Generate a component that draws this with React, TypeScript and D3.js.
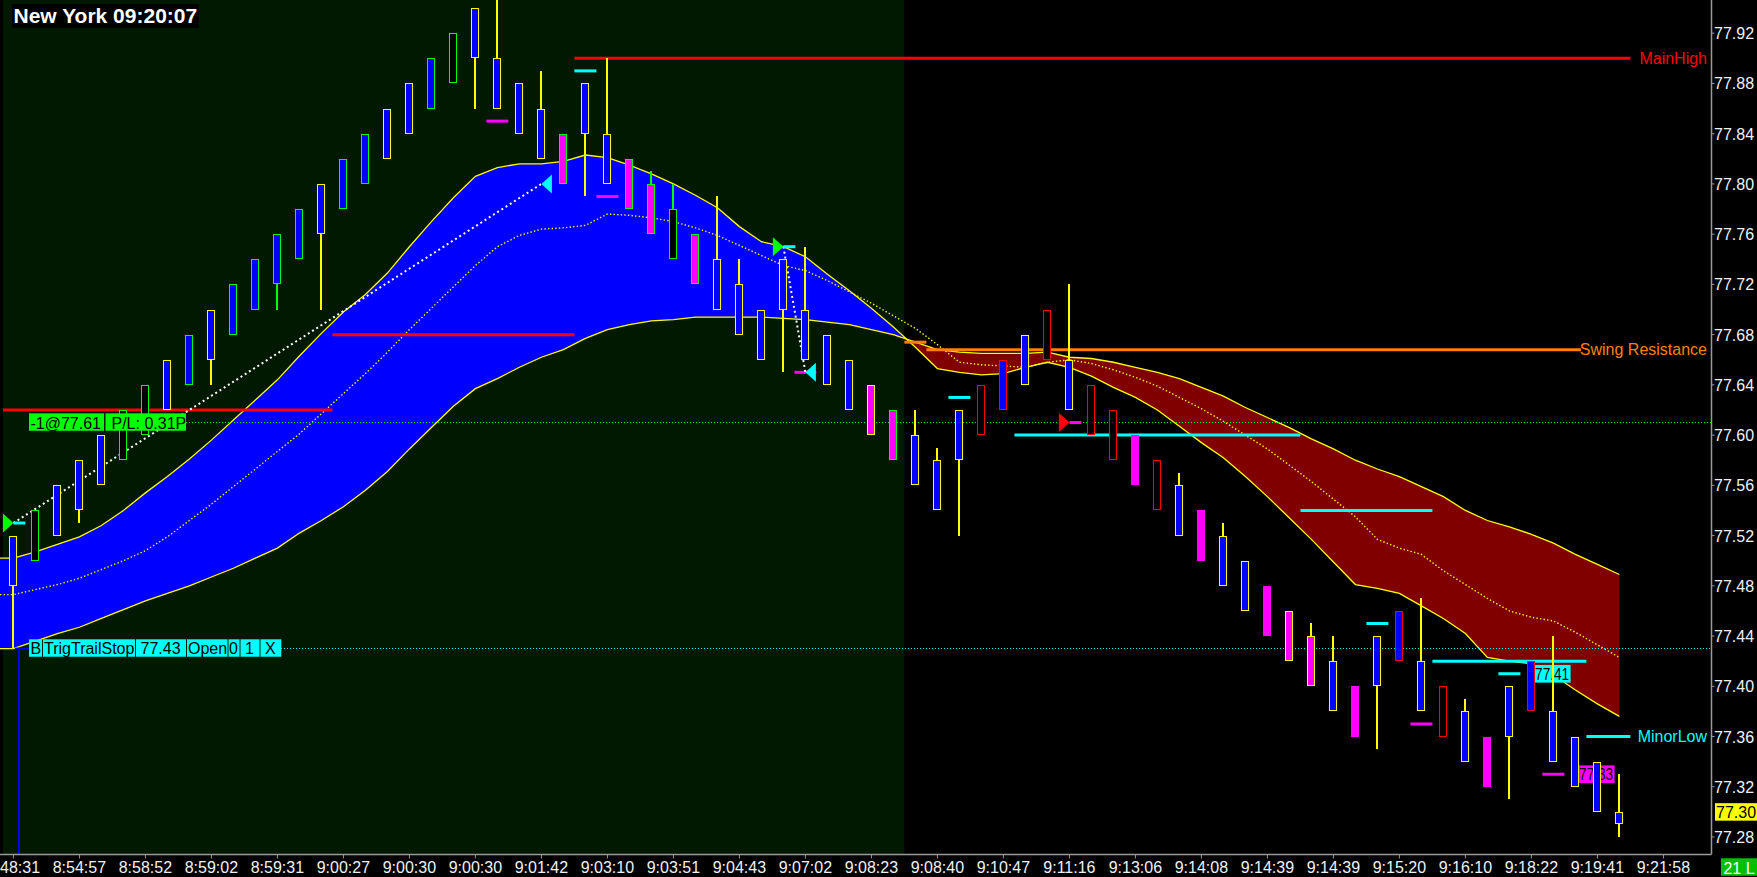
import React from "react";
import * as d3 from "d3";

const W = 1757;
const H = 877;

// ---------- DATA ----------
// first label is shown cut by the left edge in the source ("8:48:31")
const timeLabels = ["48:31","8:54:57","8:58:52","8:59:02","8:59:31","9:00:27","9:00:30","9:00:30","9:01:42","9:03:10","9:03:51","9:04:43","9:07:02","9:08:23","9:08:40","9:10:47","9:11:16","9:13:06","9:14:08","9:14:39","9:14:39","9:15:20","9:16:10","9:18:22","9:19:41","9:21:58"];
const priceTicks = [77.92,77.88,77.84,77.80,77.76,77.72,77.68,77.64,77.60,77.56,77.52,77.48,77.44,77.40,77.36,77.32,77.28];

const barOpen = [77.48,77.50,77.52,77.54,77.56,77.58,77.60,77.62,77.64,77.66,77.68,77.70,77.72,77.74,77.76,77.78,77.80,77.82,77.84,77.86,77.88,77.90,
  77.90,77.88,77.86,77.84,77.84,77.84,77.82,77.80,77.78,77.76,77.74,77.72,77.70,77.70,77.70,77.68,77.66,77.64,77.62,77.60,77.58,77.58,77.60,77.62,77.64,77.66,77.66,77.64,77.62,77.60,77.58,77.56,77.54,77.52,77.50,77.48,77.46,77.44,77.42,77.40,77.40,77.42,77.42,77.40,77.38,77.36,77.36,77.38,77.38,77.36,77.34,77.30];
const barClose = [77.52,77.54,77.56,77.58,77.60,77.62,77.64,77.66,77.68,77.70,77.72,77.74,77.76,77.78,77.80,77.82,77.84,77.86,77.88,77.90,77.92,77.94,
  77.86,77.84,77.82,77.80,77.88,77.80,77.78,77.76,77.74,77.72,77.70,77.68,77.66,77.74,77.66,77.64,77.62,77.60,77.58,77.56,77.54,77.62,77.64,77.66,77.68,77.70,77.62,77.60,77.58,77.56,77.54,77.52,77.50,77.48,77.46,77.44,77.42,77.40,77.38,77.36,77.44,77.46,77.38,77.36,77.34,77.32,77.40,77.42,77.34,77.32,77.30,77.29];
const barHigh = [77.52,77.54,77.56,77.58,77.60,77.62,77.64,77.66,77.68,77.70,77.72,77.74,77.76,77.78,77.80,77.82,77.84,77.86,77.88,77.90,77.92,77.94,
  77.97,77.88,77.89,77.84,77.88,77.90,77.82,77.81,77.80,77.76,77.79,77.74,77.70,77.74,77.75,77.68,77.66,77.64,77.62,77.62,77.59,77.62,77.64,77.66,77.68,77.70,77.72,77.64,77.62,77.60,77.58,77.57,77.54,77.53,77.50,77.48,77.46,77.45,77.44,77.40,77.44,77.46,77.47,77.40,77.39,77.36,77.40,77.42,77.44,77.36,77.34,77.33];
const barLow = [77.43,77.50,77.52,77.53,77.56,77.58,77.60,77.62,77.64,77.64,77.68,77.70,77.70,77.74,77.70,77.78,77.80,77.82,77.84,77.86,77.88,77.86,
  77.86,77.84,77.82,77.80,77.79,77.80,77.78,77.76,77.74,77.72,77.70,77.68,77.66,77.65,77.66,77.64,77.62,77.60,77.58,77.56,77.54,77.52,77.60,77.62,77.64,77.66,77.62,77.60,77.58,77.56,77.54,77.52,77.50,77.48,77.46,77.44,77.42,77.40,77.38,77.36,77.35,77.42,77.38,77.36,77.34,77.32,77.31,77.38,77.34,77.32,77.30,77.28];
// colour class of each bar
const barStyle = ["BY","KG","BY","BY","BY","KG","KG","BY","BG","BY","BG","BG","BG","BG","BY","BG","BG","BY","BY","BG","KG","BY",
  "BY","BY","BY","MG","BY","BY","MG","MG","KG","MG","BY","BY","BY","BY","BY","BY","BY","MY","MG","BY","BY","BY","R","BR","BY","R","BY","R","R","M","R","BY","M","BY","BY","M","MY","MY","BY","M","BY","BR","BY","R","BY","M","BY","BR","BY","BY","BY","BY"];

const bandFast = [77.502,77.507,77.513,77.519,77.528,77.540,77.554,77.567,77.581,77.596,
  77.612,77.628,77.644,77.663,77.681,77.698,77.712,77.729,77.750,77.770,
  77.789,77.806,77.813,77.816,77.816,77.818,77.823,77.821,77.815,77.808,
  77.800,77.791,77.781,77.766,77.754,77.750,77.742,77.728,77.715,77.701,
  77.686,77.670,77.653,77.650,77.648,77.649,77.654,77.658,77.654,77.647,
  77.638,77.630,77.620,77.607,77.594,77.582,77.567,77.551,77.534,77.517,
  77.499,77.481,77.478,77.474,77.464,77.454,77.442,77.423,77.420,77.418,
  77.409,77.397,77.386,77.376];
const bandSlow = [77.430,77.436,77.442,77.447,77.454,77.461,77.468,77.474,77.480,77.487,
  77.494,77.502,77.510,77.522,77.532,77.543,77.556,77.571,77.589,77.606,
  77.623,77.637,77.645,77.654,77.662,77.668,77.677,77.684,77.688,77.691,
  77.692,77.694,77.694,77.694,77.694,77.693,77.692,77.690,77.688,77.684,
  77.680,77.674,77.668,77.666,77.665,77.665,77.665,77.666,77.662,77.661,
  77.658,77.654,77.650,77.645,77.638,77.631,77.622,77.614,77.606,77.597,
  77.589,77.580,77.573,77.567,77.559,77.551,77.540,77.532,77.527,77.521,
  77.514,77.505,77.497,77.489];
const bandMid = [77.473,77.477,77.481,77.486,77.493,77.500,77.508,77.519,77.532,77.545,
  77.559,77.573,77.587,77.601,77.617,77.633,77.649,77.666,77.684,77.701,
  77.718,77.735,77.750,77.759,77.764,77.765,77.767,77.776,77.775,77.773,
  77.770,77.765,77.759,77.751,77.743,77.735,77.731,77.723,77.714,77.705,
  77.695,77.685,77.672,77.658,77.656,77.655,77.654,77.658,77.660,77.657,
  77.652,77.646,77.639,77.630,77.621,77.611,77.600,77.589,77.576,77.563,
  77.549,77.535,77.517,77.510,77.505,77.492,77.481,77.470,77.460,77.455,
  77.452,77.443,77.433,77.423];

// horizontal level segments (bar units)
const levelPrice = [77.62, 77.68, 77.90, 77.674, 77.668, 77.60, 77.54, 77.42, 77.36];
const levelFrom = [-0.47, 14.5, 25.5, 40.5, 41.5, 45.5, 58.5, 64.5, 71.5];
const levelTo = [14.5, 25.5, 73.5, 41.5, 71.25, 58.5, 64.5, 71.5, 73.5];
const levelKind = ["red", "red", "red", "orange", "orange", "cyan", "cyan", "cyan", "cyan"];
const levelLabelText = ["MainHigh", "Swing Resistance", "MinorLow"];
const levelLabelOf = [2, 4, 8];

// swing ticks
const swingBar = [22, 26, 27, 36, 43, 62, 64, 68, 70];
const swingPrice = [77.85, 77.89, 77.79, 77.65, 77.63, 77.45, 77.37, 77.41, 77.33];
const swingKind = ["magenta", "cyan", "magenta", "magenta", "cyan", "cyan", "magenta", "cyan", "magenta"];

// trades
const entryBar = [0, 35, 48];
const entryPrice = [77.53, 77.75, 77.61];
const entryKind = ["green", "green", "red"];
const entryTail = ["cyan", "cyan", "magenta"];
const exitBar = [24, 36];
const exitPrice = [77.80, 77.65];

const positionPrice = 77.61;
const orderPrice = 77.43;
const lastPrice = 77.30;
const tagPrice = [77.41, 77.33];
const tagBar = [69, 71];
const tagKind = ["cyan", "magenta"];
const sessionBreakBar = 40.5;

// ---------- RENDER ----------
const COL: Record<string, string> = {
  red: "#ff0000", orange: "#ff8000", cyan: "#00ffff", magenta: "#ff00ff", green: "#00ff00",
};
const CANDLE: Record<string, { fill: string; stroke: string }> = {
  BY: { fill: "#0000ff", stroke: "#ffff00" },
  BG: { fill: "#0000ff", stroke: "#00ff00" },
  KG: { fill: "#000000", stroke: "#00ff00" },
  MG: { fill: "#ff00ff", stroke: "#00ff00" },
  MY: { fill: "#ff00ff", stroke: "#ffff00" },
  M: { fill: "#ff00ff", stroke: "#ff00ff" },
  R: { fill: "#000000", stroke: "#ff0000" },
  BR: { fill: "#0000ff", stroke: "#ff0000" },
};
const FONT = "'Liberation Sans', Arial, Helvetica, sans-serif";

type BP = { x: number; f: number; s: number; m: number };

export default function App() {
  const xS = d3.scaleLinear().domain([0, 73]).range([13.4, 1619.4]);
  const yS = d3.scaleLinear().domain([77.28, 77.92]).range([837.0, 33.2]);
  const PR = 1711.5;
  const PB = 854.5;

  const base: BP[] = bandFast.map((f, i) => ({ x: xS(i), f, s: bandSlow[i], m: bandMid[i] }));
  const pts: BP[] = [{ ...base[0], x: 0 }, ...base];
  const split: BP[] = [];
  pts.forEach((p, i) => {
    if (i > 0) {
      const a = pts[i - 1];
      const da = a.f - a.s, db = p.f - p.s;
      if (da * db < 0) {
        const t = da / (da - db);
        split.push({ x: a.x + t * (p.x - a.x), f: a.f + t * (p.f - a.f), s: a.s + t * (p.s - a.s), m: a.m + t * (p.m - a.m) });
      }
    }
    split.push(p);
  });
  const bluePath = d3.area<BP>().x(d => d.x).y0(d => yS(d.s)).y1(d => yS(Math.max(d.f, d.s)))(split) || "";
  const redPath = d3.area<BP>().x(d => d.x).y0(d => yS(d.f)).y1(d => yS(Math.max(d.f, d.s)))(split) || "";
  const fPath = d3.line<BP>().x(d => d.x).y(d => yS(d.f))(pts) || "";
  const sPath = d3.line<BP>().x(d => d.x).y(d => yS(d.s))(pts) || "";
  const mPath = d3.line<BP>().x(d => d.x).y(d => yS(d.m))(pts) || "";

  const sessX = xS(sessionBreakBar);
  const posY = yS(positionPrice);
  const ordY = yS(orderPrice);

  const candles = barOpen.map((o, i) => {
    const c = barClose[i];
    const st = CANDLE[barStyle[i]];
    const cx = Math.round(xS(i));
    const top = Math.round(yS(Math.max(o, c))) + 0.5;
    const bot = Math.round(yS(Math.min(o, c))) - 0.5;
    const hi = Math.round(yS(barHigh[i]));
    const lo = Math.round(yS(barLow[i]));
    return (
      <g key={"c" + i} shapeRendering="crispEdges">
        {hi < top - 1 && <line x1={cx} x2={cx} y1={hi} y2={top} stroke={st.stroke} strokeWidth={2} />}
        {lo > bot + 1 && <line x1={cx} x2={cx} y1={bot} y2={lo} stroke={st.stroke} strokeWidth={2} />}
        <rect x={cx - 3.5} y={top} width={7} height={Math.max(bot - top, 1)} fill={st.fill} stroke={st.stroke} strokeWidth={1} />
      </g>
    );
  });

  const orderCells = [
    { a: 29, b: 42, t: "B", tx: 30.5 },
    { a: 43, b: 135, t: "TrigTrailStop", tx: 44 },
    { a: 136, b: 186, t: "77.43", tx: 140.5 },
    { a: 187, b: 227.5, t: "Open", tx: 188 },
    { a: 228.5, b: 239.5, t: "0", tx: 229 },
    { a: 240.5, b: 259.5, t: "1", tx: 245 },
    { a: 260.5, b: 281.3, t: "X", tx: 265 },
  ];

  return (
    <svg width={W} height={H} style={{ position: "fixed", left: 0, top: 0, display: "block" }} fontFamily={FONT}>
      <defs>
        <clipPath id="plotClip"><rect x={0} y={0} width={PR} height={PB} /></clipPath>
      </defs>
      <rect x={0} y={0} width={W} height={H} fill="#000" />
      <rect x={3} y={0} width={sessX - 3} height={PB} fill="#001900" />

      <g clipPath="url(#plotClip)">
        <path d={bluePath} fill="#0000ff" />
        <path d={redPath} fill="#800000" />
        <path d={fPath} fill="none" stroke="#ffff00" strokeWidth={1.3} />
        <path d={sPath} fill="none" stroke="#ffff00" strokeWidth={1.3} />
        <path d={mPath} fill="none" stroke="#ffff00" strokeWidth={1.4} strokeDasharray="1.4 2.2" />

        {/* dotted position / order lines */}
        <line x1={186} x2={PR} y1={posY} y2={posY} stroke="#00ff00" strokeWidth={1} strokeDasharray="1 2" shapeRendering="crispEdges" />
        <line x1={281} x2={PR} y1={ordY} y2={ordY} stroke="#00ffff" strokeWidth={1} strokeDasharray="1 2" shapeRendering="crispEdges" />
        <line x1={19} x2={19} y1={ordY} y2={PB} stroke="#0000ff" strokeWidth={2} />
        <line x1={15} x2={29} y1={ordY} y2={ordY} stroke="#0000ff" strokeWidth={2} />

        {levelPrice.map((p, i) => (
          <line key={"l" + i} x1={xS(levelFrom[i])} x2={xS(levelTo[i])} y1={yS(p)} y2={yS(p)} stroke={COL[levelKind[i]]} strokeWidth={3} />
        ))}
        {levelLabelOf.map((li, j) => (
          <text key={"ll" + j} x={1707} y={yS(levelPrice[li]) + 5.5} textAnchor="end" fontSize={16} fill={COL[levelKind[li]]}>{levelLabelText[j]}</text>
        ))}

        {swingBar.map((b, i) => (
          <line key={"s" + i} x1={xS(b) - 11} x2={xS(b) + 11} y1={yS(swingPrice[i])} y2={yS(swingPrice[i])} stroke={COL[swingKind[i]]} strokeWidth={3} />
        ))}

        {/* trade links */}
        {exitBar.map((b, i) => (
          <line key={"tl" + i} x1={xS(entryBar[i])} y1={yS(entryPrice[i])} x2={xS(b)} y2={yS(exitPrice[i])} stroke="#ffffff" strokeWidth={2} strokeDasharray="2 3" />
        ))}
        {entryBar.map((b, i) => {
          const tx = xS(b), ty = yS(entryPrice[i]);
          return (
            <g key={"e" + i}>
              <line x1={tx} x2={tx + 12} y1={ty} y2={ty} stroke={COL[entryTail[i]]} strokeWidth={3} />
              <polygon points={`${tx},${ty} ${tx - 10.5},${ty - 9.5} ${tx - 10.5},${ty + 9.5}`} fill={COL[entryKind[i]]} />
            </g>
          );
        })}
        {exitBar.map((b, i) => {
          const tx = xS(b), ty = yS(exitPrice[i]);
          return <polygon key={"x" + i} points={`${tx},${ty} ${tx + 10.5},${ty - 9.5} ${tx + 10.5},${ty + 9.5}`} fill="#00ffff" />;
        })}

        {/* price tags behind candles */}
        {tagPrice.map((p, i) => {
          const x0 = xS(tagBar[i]) + 2.2;
          const yc = yS(p);
          return (
            <g key={"tg" + i}>
              <rect x={x0} y={yc - 8.8} width={37} height={17.7} fill={COL[tagKind[i]]} />
              <text x={x0 + 1.5} y={yc + 6} fontSize={16} fill="#000" textLength={34} lengthAdjust="spacingAndGlyphs">{p.toFixed(2)}</text>
            </g>
          );
        })}

        {candles}

        {/* position label */}
        <rect x={29} y={posY - 9.2} width={75} height={17.4} fill="#00ff00" />
        <rect x={105.5} y={posY - 9.2} width={80.5} height={17.4} fill="#00ff00" />
        <text x={30.5} y={posY + 6} fontSize={16} fill="#000">{`-1@${positionPrice.toFixed(2)}`}</text>
        <text x={111.5} y={posY + 6} fontSize={16} fill="#000">P/L: 0.31P</text>

        {/* order label */}
        {orderCells.map((c, i) => (
          <g key={"oc" + i}>
            <rect x={c.a} y={ordY - 9.3} width={c.b - c.a} height={17.4} fill="#00ffff" />
            <text x={c.tx} y={ordY + 5.6} fontSize={16} fill="#000">{c.t}</text>
          </g>
        ))}
      </g>

      {/* axes */}
      <line x1={PR} x2={PR} y1={0} y2={PB} stroke="#9a9a9a" strokeWidth={1.5} />
      <line x1={0} x2={PR} y1={PB} y2={PB} stroke="#9a9a9a" strokeWidth={1.5} />
      {priceTicks.map((p, i) => (
        <g key={"yt" + i}>
          <line x1={PR} x2={PR + 3} y1={yS(p)} y2={yS(p)} stroke="#9a9a9a" strokeWidth={1} />
          <text x={1714} y={yS(p) + 6} fontSize={16} fill="#eef2f8">{p.toFixed(2)}</text>
        </g>
      ))}
      {timeLabels.map((t, i) => {
        const tx = xS(i * 3);
        return (
          <g key={"xt" + i}>
            <line x1={tx} x2={tx} y1={PB} y2={PB + 4} stroke="#9a9a9a" strokeWidth={1} />
            <text x={i === 0 ? 0 : tx} y={872.5} textAnchor={i === 0 ? "start" : "middle"} fontSize={16} fill="#eef2f8">{t}</text>
          </g>
        );
      })}

      {/* last price */}
      <rect x={1715} y={yS(lastPrice) - 8.7} width={42} height={17.5} fill="#ffff00" />
      <text x={1716} y={yS(lastPrice) + 6.2} fontSize={16} fill="#000">{lastPrice.toFixed(2)}</text>

      <rect x={1721} y={858.3} width={36} height={17.5} fill="#00c000" />
      <text x={1723.5} y={874} fontSize={16} fill="#ffffff" textLength={31} lengthAdjust="spacingAndGlyphs">21 L</text>

      {/* title */}
      <rect x={12} y={4} width={187} height={23.7} fill="#000" />
      <text x={13.5} y={23.4} fontSize={21} fontWeight="bold" fill="#ffffff">New York 09:20:07</text>
    </svg>
  );
}
